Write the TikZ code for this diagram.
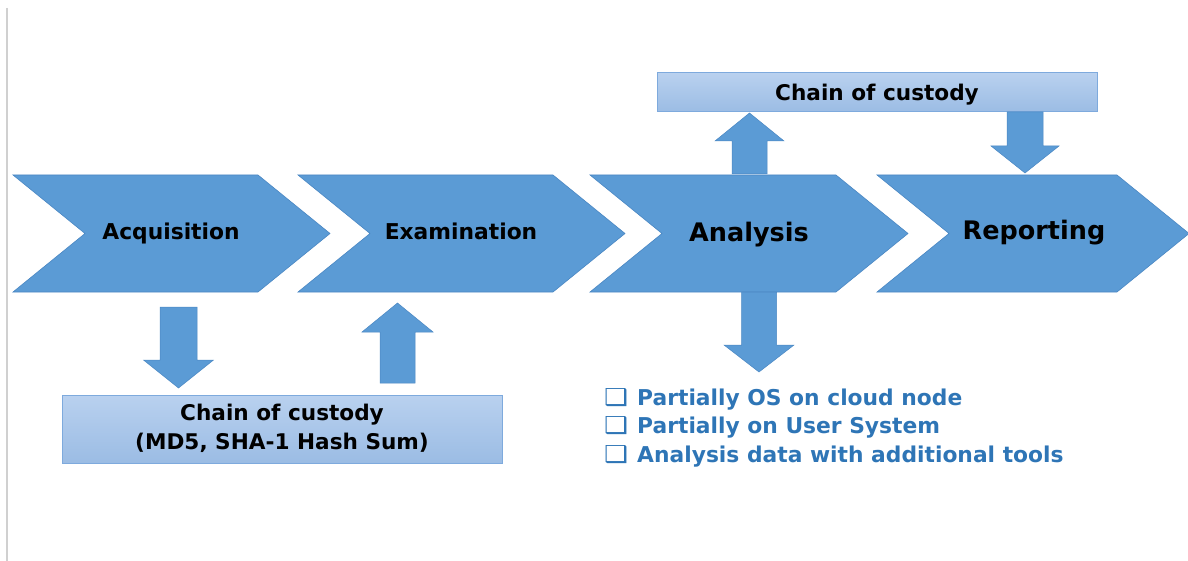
\documentclass[tikz,border=0pt]{standalone}
\usepackage{fontspec}
\usepackage{graphicx}
\setmainfont{DejaVu Sans}
\usetikzlibrary{calc}

\definecolor{chevblue}{HTML}{5B9BD5}
\definecolor{chevedge}{HTML}{4A87C3}
\definecolor{boxtop}{HTML}{B9D1EF}
\definecolor{boxbot}{HTML}{9BBCE4}
\definecolor{boxedge}{HTML}{7EAADD}
\definecolor{listblue}{HTML}{2E75B6}
\definecolor{rulegray}{HTML}{D0D0D0}

\tikzset{
  chevron/.style={fill=chevblue, draw=chevedge, line width=0.6pt, line join=miter},
  blockarrow/.style={fill=chevblue, draw=chevedge, line width=0.5pt},
  chevlabel/.style={font=\bfseries\fontsize{21.8}{25}\selectfont, text=black,
    inner sep=0pt, anchor=base},
  biglabel/.style={chevlabel, font=\bfseries\fontsize{25.5}{29}\selectfont},
  custodybox/.style={draw=boxedge, line width=1pt, top color=boxtop, bottom color=boxbot},
  boxtext/.style={font=\bfseries\fontsize{21.6}{29}\selectfont, text=black,
    align=center, inner sep=0pt, anchor=base},
  steplist/.style={font=\bfseries\fontsize{21.8}{28.5}\selectfont, text=listblue,
    align=left, inner sep=0pt, anchor=base west},
}

% Chevron outline: left x, total width, depth of point and notch
\newcommand\chevronshape[3]{%
  \filldraw[chevron] (#1,175) -- ({#1+#2-#3},175) -- ({#1+#2},233.5)
    -- ({#1+#2-#3},292) -- (#1,292) -- ({#1+#3},233.5) -- cycle;}

% Vertical block arrow from a tail point to a tip point:
% half shaft width, half head width, head length
\newcommand\blockarrowshape[5]{%
  \filldraw[blockarrow] let \p1=(#1), \p2=(#2), \n1={ifthenelse(\y1>\y2,1,-1)} in
    ({\x1-#3pt},\y1) -- ({\x1-#3pt},{\y2+\n1*#5pt}) -- ({\x1-#4pt},{\y2+\n1*#5pt})
    -- (\x1,\y2) -- ({\x1+#4pt},{\y2+\n1*#5pt}) -- ({\x1+#3pt},{\y2+\n1*#5pt})
    -- ({\x1+#3pt},\y1) -- cycle;}

\newcommand\listbullet{\makebox[33pt][l]{\resizebox{24pt}{17pt}{❑}}}

\begin{document}
\begin{tikzpicture}[x=1pt, y=-1pt]
  \useasboundingbox (0,0) rectangle (1188,561);

  % page margin rule
  \draw[rulegray, line width=1.6pt] (7,8) -- (7,561);

  % process chevrons
  \chevronshape{13}{317}{72}
  \chevronshape{298}{327}{72}
  \chevronshape{590}{318}{72}
  \chevronshape{877}{312}{72}

  \node[chevlabel] (acq)  at (171,240) {Acquisition};
  \node[chevlabel] (exam) at (461,240) {Examination};
  \node[biglabel]  (ana)  at (749,242) {Analysis};
  \node[biglabel]  (rep)  at (1034,240) {Reporting};

  % chain of custody boxes
  \node[custodybox, minimum width=440pt, minimum height=39pt] (topbox) at (877,92.5) {};
  \node[boxtext] (toptext) at (877,101) {Chain of custody};
  \node[custodybox, minimum width=440pt, minimum height=68pt] (lowbox) at (282,429) {};
  \node[boxtext] (lowtext) at (282,449) {Chain of custody\\(MD5, SHA-1 Hash Sum)};

  % analysis details
  \node[steplist] (details) at (604,462)
    {\listbullet Partially OS on cloud node\\
     \listbullet Partially on User System\\
     \listbullet Analysis data with additional tools};

  % arrow end points
  \coordinate (acq-out)  at (178.5,307);
  \coordinate (acq-in)   at (178.5,388);
  \coordinate (exam-out) at (397.5,383);
  \coordinate (exam-in)  at (397.5,303);
  \coordinate (ana-up)   at (749.5,174);
  \coordinate (top-in)   at (749.5,113);
  \coordinate (top-out)  at (1025,112);
  \coordinate (rep-in)   at (1025,173);
  \coordinate (ana-down) at (759,292);
  \coordinate (det-in)   at (759,372);

  % block arrows
  \blockarrowshape{acq-out}{acq-in}{18.5}{35}{28}
  \blockarrowshape{exam-out}{exam-in}{17.5}{35.5}{29}
  \blockarrowshape{ana-up}{top-in}{17.5}{34.5}{28}
  \blockarrowshape{top-out}{rep-in}{18}{34}{27}
  \blockarrowshape{ana-down}{det-in}{17.5}{35}{27}
\end{tikzpicture}
\end{document}
